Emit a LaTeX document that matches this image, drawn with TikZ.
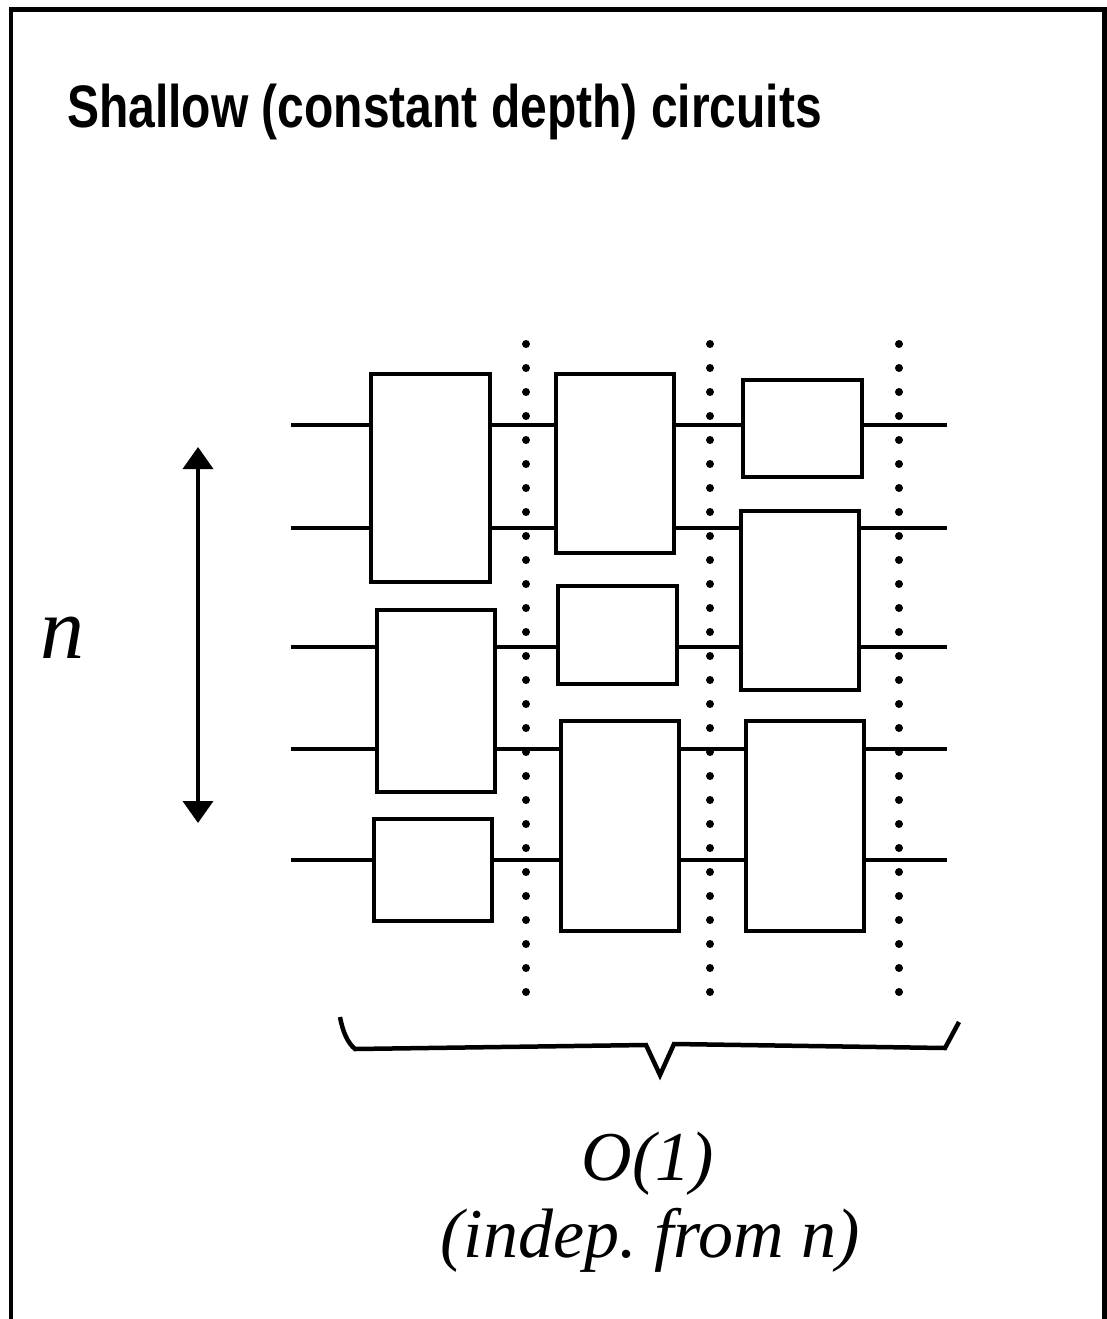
\documentclass[tikz,border=0pt]{standalone}
\usepackage{fontspec}
\usepackage{graphicx}
\setmainfont{Liberation Serif}
\newfontfamily\titlefont{Liberation Sans}
\usetikzlibrary{arrows.meta}
\begin{document}
\begin{tikzpicture}[x=1pt,y=-1pt,
  wire/.style={line width=4.5pt},
  gate/.style={draw, line width=4.7pt, fill=white, inner sep=0pt, outer sep=0pt},
  frameline/.style={line width=4.5pt},
  bracepath/.style={line width=4.5pt, line join=miter},
  dimarrow/.style={line width=3.8pt, {Triangle[width=30pt,length=22pt]}-{Triangle[width=30pt,length=22pt]}},
  lbl/.style={inner sep=0pt, outer sep=0pt}]
\useasboundingbox (0,0) rectangle (1107,1319);
\fill[white] (0,0) rectangle (1107,1319);
% frame
\draw[frameline] (11,1319) -- (11,9.5) -- (1104.5,9.5) -- (1104.5,1319);
% title
\node[lbl, anchor=base west] (title) at (67,128)
  {\scalebox{0.8}[1]{\titlefont\bfseries\fontsize{60}{72}\selectfont Shallow (constant depth) circuits}};
% wires
\foreach \i/\y in {1/425,2/528,3/647,4/749,5/860}{
  \coordinate (w\i in) at (291,\y);
  \coordinate (w\i out) at (947,\y);
  \draw[wire] (w\i in) -- (w\i out);
}
% gates
\node[gate, minimum width=119pt, minimum height=208pt] (g1a) at (430.5,478) {};
\node[gate, minimum width=118pt, minimum height=182pt] (g1b) at (436,701) {};
\node[gate, minimum width=118pt, minimum height=102pt] (g1c) at (433,870) {};
\node[gate, minimum width=118pt, minimum height=179pt] (g2a) at (615,463.5) {};
\node[gate, minimum width=119pt, minimum height=98pt] (g2b) at (617.5,635) {};
\node[gate, minimum width=118pt, minimum height=210pt] (g2c) at (620,826) {};
\node[gate, minimum width=119pt, minimum height=97pt] (g3a) at (802.5,428.5) {};
\node[gate, minimum width=118pt, minimum height=179pt] (g3b) at (800,600.5) {};
\node[gate, minimum width=118pt, minimum height=210pt] (g3c) at (805,826) {};
% dotted separators
\foreach \x in {526,710,899}{
  \foreach \k in {0,...,27}{
    \fill (\x,344+24*\k) circle (4pt);
  }
}
% n arrow
\coordinate (atop) at (198,447);
\coordinate (abot) at (198,823);
\draw[dimarrow] (atop) -- (abot);
\node[lbl, anchor=base west] (nlab) at (40,658) {\fontsize{88}{100}\selectfont\itshape n};
% brace
\draw[bracepath] (340,1017) .. controls (343,1033) and (348,1043) .. (355,1049)
  -- (646,1045) -- (660,1075) -- (674,1044) -- (945,1048) -- (959,1022);
% labels
\node[lbl, anchor=base] (o1) at (648,1180) {\fontsize{70}{84}\selectfont\itshape O(1)};
\node[lbl, anchor=base] (indep) at (650,1257) {\fontsize{70}{84}\selectfont\itshape\frenchspacing (indep. from n)};
\end{tikzpicture}
\end{document}
